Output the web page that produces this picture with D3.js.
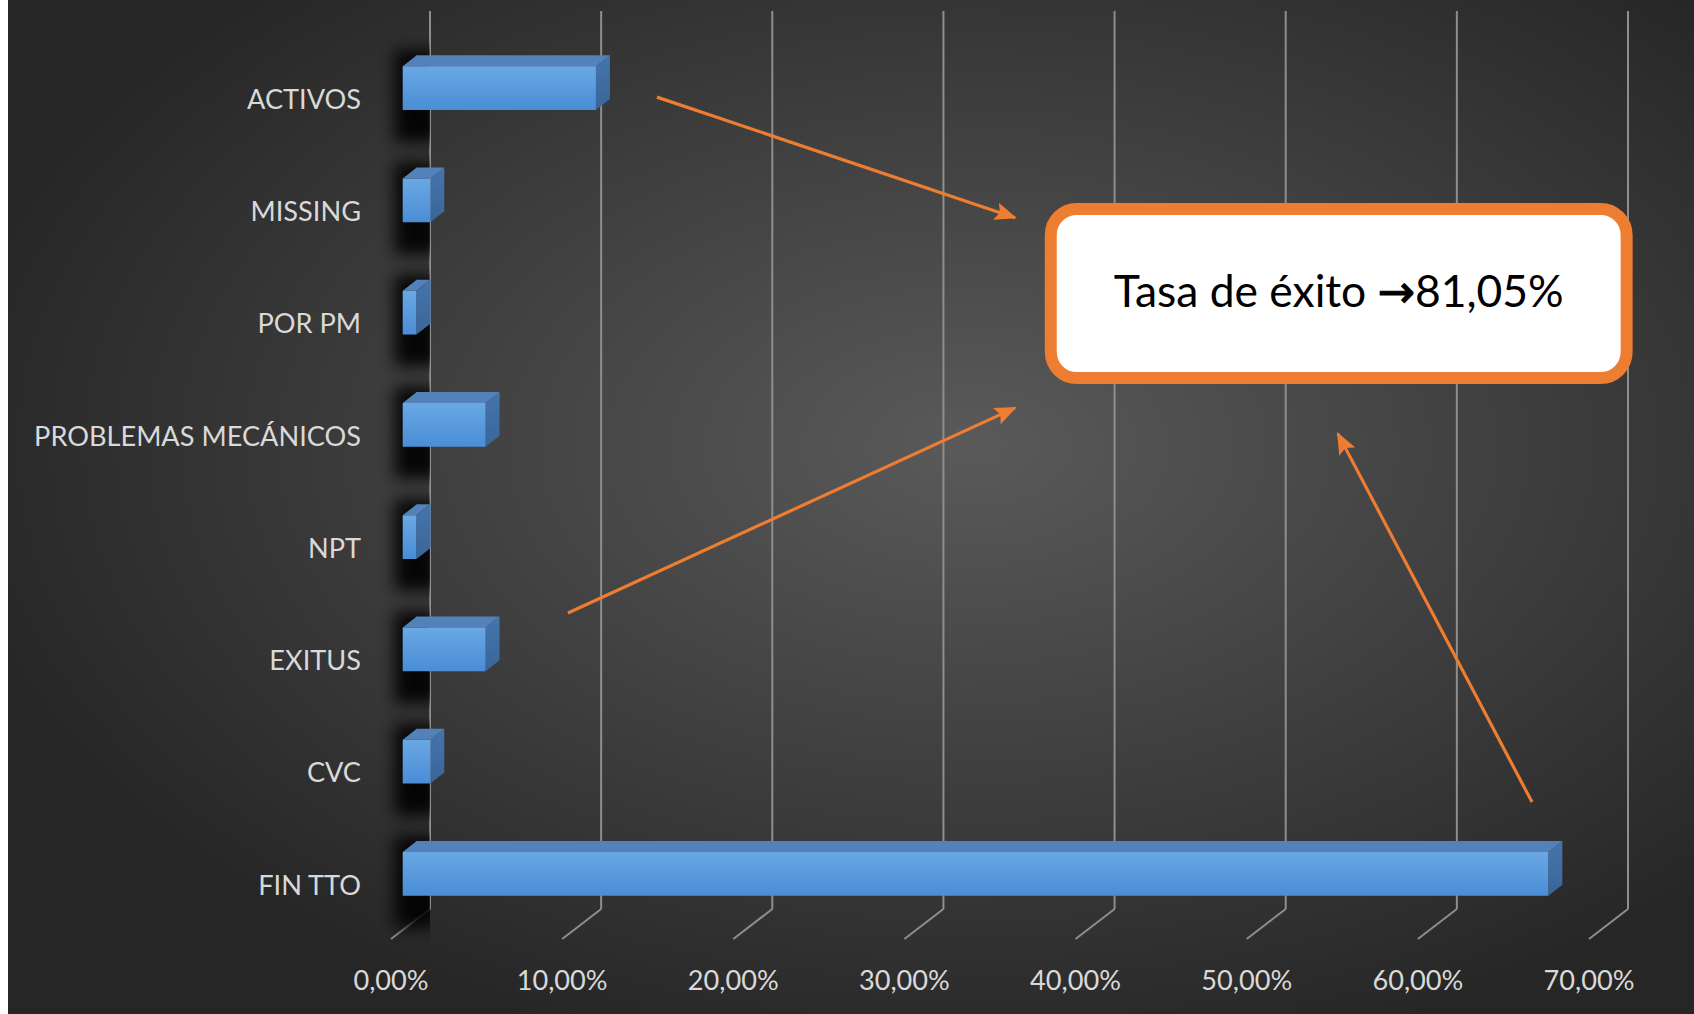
<!DOCTYPE html>
<html><head><meta charset="utf-8">
<script src="https://cdn.jsdelivr.net/npm/d3@7"></script>
<style>html,body{margin:0;padding:0;background:#fff;overflow:hidden}</style>
</head><body>
<script>
// ---- data ----
const categories = ["ACTIVOS","MISSING","POR PM","PROBLEMAS MECÁNICOS","NPT","EXITUS","CVC","FIN TTO"];
const values = [0.1129, 0.0161, 0.0081, 0.0484, 0.0081, 0.0484, 0.0161, 0.6694];
const tickValues = [0, 0.1, 0.2, 0.3, 0.4, 0.5, 0.6, 0.7];
const tickLabels = ["0,00%","10,00%","20,00%","30,00%","40,00%","50,00%","60,00%","70,00%"];
const calloutParts = ["Tasa de éxito ", "\u2192", "81,05%"];
// annotation arrows in data space: value (x) and category index (y)
const arrowFrom = [[0.1554, 0.0], [0.1034, 4.596], [0.6667, 6.28]];
const arrowTo   = [[0.3646, 1.074], [0.3646, 2.768], [0.5533, 3.0]];
const calloutBox = [[0.3820, 0.943], [0.7255, 2.556]];

// ---- layout ----
const W = 1694, H = 1014;
const svg = d3.select("body").append("svg").attr("width", W).attr("height", H);
const defs = svg.append("defs");

const bg = defs.append("radialGradient").attr("id","bg").attr("cx","57%").attr("cy","44%").attr("r","62%");
bg.append("stop").attr("offset","0%").attr("stop-color","#5a5a5a");
bg.append("stop").attr("offset","100%").attr("stop-color","#262626");

const front = defs.append("linearGradient").attr("id","front").attr("x1",0).attr("y1",0).attr("x2",0).attr("y2",1);
front.append("stop").attr("offset","0%").attr("stop-color","#6aa8e4");
front.append("stop").attr("offset","100%").attr("stop-color","#4a8dd6");
const side = defs.append("linearGradient").attr("id","side").attr("x1",0).attr("y1",0).attr("x2",0).attr("y2",1);
side.append("stop").attr("offset","0%").attr("stop-color","#4575ae");
side.append("stop").attr("offset","100%").attr("stop-color","#3a6598");

defs.append("filter").attr("id","blur").attr("x","-50%").attr("y","-50%").attr("width","200%").attr("height","200%")
  .append("feGaussianBlur").attr("stdDeviation", 8);

svg.append("rect").attr("x",8).attr("y",0).attr("width",W-8).attr("height",H).attr("fill","url(#bg)");

const xFront = d3.scaleLinear().domain([0,0.7]).range([391,1589]);
const depth = [39,-30];
const xBack = d3.scaleLinear().domain([0,0.7]).range([391+depth[0],1589+depth[0]]);
const yBand = d3.scaleBand().domain(categories).range([41,939]);
const yIdx = d3.scaleLinear().domain([0,categories.length-1])
  .range([yBand(categories[0])+yBand.bandwidth()/2, yBand(categories[categories.length-1])+yBand.bandwidth()/2]);
const backTop = 41 + depth[1], backBottom = 939 + depth[1];

// gridlines on back wall + floor stubs
const grid = svg.append("g").attr("stroke","#8e8e8e").attr("stroke-width",2).attr("fill","none");
tickValues.forEach(t => {
  grid.append("line").attr("x1",xBack(t)).attr("x2",xBack(t)).attr("y1",backTop).attr("y2",backBottom);
  grid.append("line").attr("x1",xBack(t)).attr("y1",backBottom).attr("x2",xFront(t)).attr("y2",939);
});

// bars
const f = 0.3;
const off = [depth[0]*f, depth[1]*f];
const xBar = d3.scaleLinear().domain([0,0.7]).range([xFront(0)+off[0], xFront(0.7)+off[0]]);
const barH = yBand.bandwidth()*0.39;
const bd = [14,-11];

defs.append("clipPath").attr("id","shclip").append("rect").attr("x",0).attr("y",0).attr("width",xBack(0)).attr("height",H);
const shadows = svg.append("g").attr("clip-path","url(#shclip)");
const bars = svg.append("g");
categories.forEach((c,i) => {
  const cy = yBand(c) + yBand.bandwidth()/2 + off[1];
  const y0 = cy - barH/2, y1 = cy + barH/2;
  const x0 = xBar(0), x1 = xBar(values[i]);
  shadows.append("rect").attr("x", x0-8).attr("y", y0-16).attr("width", 44).attr("height", barH+48)
    .attr("fill","#000").attr("opacity",0.9).attr("filter","url(#blur)");
  bars.append("path").attr("d", `M${x0},${y0}L${x1},${y0}L${x1+bd[0]},${y0+bd[1]}L${x0+bd[0]},${y0+bd[1]}Z`).attr("fill","#5382bb");
  bars.append("path").attr("d", `M${x1},${y0}L${x1+bd[0]},${y0+bd[1]}L${x1+bd[0]},${y1+bd[1]}L${x1},${y1}Z`).attr("fill","url(#side)");
  bars.append("rect").attr("x",x0).attr("y",y0).attr("width",x1-x0).attr("height",barH).attr("fill","url(#front)");
});

const font = "Lato, 'Open Sans', sans-serif";
// category labels
const catG = svg.append("g").attr("font-family",font).attr("fill","#d9d9d9").attr("text-anchor","end");
categories.forEach(c => {
  catG.append("text").attr("x",361).attr("y",yBand(c)+yBand.bandwidth()/2 + 2).attr("dy","0.36em").attr("font-size",26).text(c);
});
const probe = catG.selectAll("text").nodes().find(n => n.textContent === "PROBLEMAS MECÁNICOS");
const fs = 26 * 327 / probe.getComputedTextLength();
catG.selectAll("text").attr("font-size", fs);

// tick labels
const tickG = svg.append("g").attr("font-family",font).attr("fill","#d9d9d9").attr("text-anchor","middle").attr("font-size",fs);
tickValues.forEach((t,i) => {
  tickG.append("text").attr("x",xFront(t)).attr("y",980).attr("dy","0.36em").text(tickLabels[i]);
});

// arrows
defs.append("marker").attr("id","ah").attr("markerUnits","userSpaceOnUse").attr("markerWidth",22).attr("markerHeight",18)
  .attr("viewBox","0 0 22 18").attr("refX",20).attr("refY",9).attr("orient","auto")
  .append("path").attr("d","M0,0L22,9L0,18L4,9Z").attr("fill","#ed7d31");
arrowFrom.forEach((a,i) => {
  const b = arrowTo[i];
  svg.append("line").attr("x1",xFront(a[0])).attr("y1",yIdx(a[1])).attr("x2",xFront(b[0])).attr("y2",yIdx(b[1]))
    .attr("stroke","#ed7d31").attr("stroke-width",3.2).attr("marker-end","url(#ah)");
});

// callout box
const bx0 = xFront(calloutBox[0][0]), by0 = yIdx(calloutBox[0][1]);
const bx1 = xFront(calloutBox[1][0]), by1 = yIdx(calloutBox[1][1]);
const sw = 12;
svg.append("rect").attr("x",bx0+sw/2).attr("y",by0+sw/2).attr("width",bx1-bx0-sw).attr("height",by1-by0-sw)
  .attr("rx",26).attr("fill","#fff").attr("stroke","#ed7d31").attr("stroke-width",sw);
const ct = svg.append("text").attr("x",(bx0+bx1)/2).attr("y",(by0+by1)/2 - 3).attr("dy","0.36em")
  .attr("text-anchor","middle").attr("font-family",font).attr("font-size",40).attr("fill","#000");
ct.append("tspan").text(calloutParts[0]);
ct.append("tspan").attr("font-family","'DejaVu Sans', sans-serif").attr("stroke","#000").attr("stroke-width",1.2).text(calloutParts[1]);
ct.append("tspan").text(calloutParts[2]);
ct.attr("font-size", 40*450/ct.node().getComputedTextLength());
</script>
</body></html>
